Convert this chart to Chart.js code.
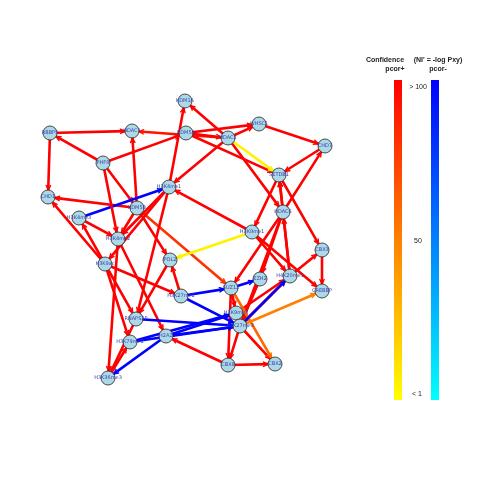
<!DOCTYPE html>
<html>
<head>
<meta charset="utf-8">
<script src="https://cdn.jsdelivr.net/npm/chart.js@4"></script>
<style>
  body { margin: 0; background: #fff; font-family: "Liberation Sans", Arial, sans-serif; }
  #wrap { position: relative; width: 480px; height: 480px; }
  .bar { position: absolute; top: 80px; height: 320px; width: 8px; }
  #barPos { left: 394px; background: linear-gradient(#ff0000, #ff8000 50%, #ffff00); }
  #barNeg { left: 431px; background: linear-gradient(#0000ff, #0080ff 50%, #00ffff); }
  .txt { position: absolute; font-size: 7px; color: #222; white-space: nowrap; transform: translateX(-50%); }
  .bold { font-weight: bold; }
</style>
</head>
<body>
<div id="wrap">
  <canvas id="net" width="480" height="480"></canvas>
  <div class="bar" id="barPos"></div>
  <div class="bar" id="barNeg"></div>
  <div class="txt bold" style="left:385px;top:56px">Confidence</div>
  <div class="txt bold" style="left:438px;top:56px">(NI' = -log Pxy)</div>
  <div class="txt bold" style="left:395px;top:65px">pcor+</div>
  <div class="txt bold" style="left:438px;top:65px">pcor-</div>
  <div class="txt" style="left:418px;top:83px">&gt; 100</div>
  <div class="txt" style="left:418px;top:237px">50</div>
  <div class="txt" style="left:417px;top:390px">&lt; 1</div>
</div>
<script>
  // Node names and layout positions
  const nodeNames = [
    "KDM1A", "KDM5A", "HDAC1", "RBBP5", "HDAC2", "WHSC1", "CHD7", "PHF8",
    "SETDB1", "H3K4me1", "CHD1", "KDM5B", "HDAC6", "H3K4me3", "H3K9me1", "H3K4me2",
    "CBX3", "POL2", "H3K9ac", "H4K20me1", "EZH2", "SUZ12", "CREBBP", "H3K27me2",
    "H3K9me3", "RNAPS2P", "H3K27me3", "H2AZ", "H3K79me2", "CBX8", "CBX2", "H3K36me3"
  ];
  const nodeX = [185, 186, 132, 50, 228, 259, 325, 103, 279, 169, 48, 137, 283, 79, 252, 118,
                 322, 170, 105, 290, 260, 231, 322, 181, 236, 136, 240, 166, 130, 228, 275, 108];
  const nodeY = [101, 133, 131, 133, 138, 124, 146, 163, 175, 187, 197, 208, 212, 218, 232, 239,
                 250, 260, 264, 276, 279, 288, 291, 296, 313, 319, 326, 336, 342, 365, 364, 378];

  // Edges: source, target, confidence (positive = pcor+, negative = pcor-)
  const edgeFrom = [
    "HDAC2", "RBBP5", "KDM5A", "RBBP5", "PHF8", "PHF8", "KDM5B", "PHF8", "H3K4me1", "KDM5B",
    "H3K4me3", "HDAC2", "HDAC2", "KDM5A", "WHSC1", "KDM5A", "HDAC2", "HDAC2", "CHD7",
    "HDAC6", "SETDB1", "CBX3", "HDAC6", "H4K20me1", "H4K20me1", "H4K20me1", "H3K9me1", "SETDB1",
    "H3K9me1", "HDAC6", "HDAC6", "HDAC6", "H3K9me1", "KDM5B", "KDM5B", "KDM5B",
    "H3K4me1", "H3K4me1", "H3K4me1", "H3K4me3", "H3K9ac", "H3K9ac", "H3K9ac", "H3K9ac", "H3K9ac",
    "H3K4me2", "H3K4me2", "PHF8", "POL2", "H3K27me2", "SUZ12", "H3K27me3", "H3K9me3",
    "CBX8", "CBX8", "H3K27me3", "H3K27me3", "H3K36me3", "RNAPS2P", "EZH2", "SUZ12", "H4K20me1",
    "H3K9me1", "SUZ12", "H3K27me3", "H3K27me2", "H3K27me2", "SUZ12", "H3K27me3", "H2AZ", "H2AZ",
    "H3K79me2", "H3K79me2", "RNAPS2P", "H2AZ", "HDAC2"
  ];
  const edgeTo = [
    "HDAC1", "HDAC1", "HDAC2", "CHD1", "RBBP5", "KDM5A", "HDAC1", "KDM5B", "KDM1A", "CHD1",
    "H3K4me1", "KDM1A", "WHSC1", "WHSC1", "CHD7", "SETDB1", "H3K4me1", "HDAC6", "SETDB1",
    "CHD7", "CBX3", "CREBBP", "SETDB1", "SETDB1", "HDAC6", "CBX3", "CREBBP", "H3K9me1",
    "H4K20me1", "SUZ12", "EZH2", "H3K27me3", "H3K4me1", "SUZ12", "POL2", "H3K4me2",
    "H3K4me2", "H3K9ac", "RNAPS2P", "H3K4me2", "H3K4me3", "CHD1", "H3K27me2", "H3K79me2", "RNAPS2P",
    "H3K36me3", "H2AZ", "H3K4me2", "RNAPS2P", "POL2", "CBX8", "CBX8", "H4K20me1",
    "H2AZ", "CBX2", "CBX2", "H4K20me1", "H3K79me2", "H3K36me3", "H3K27me3", "H3K9me3", "H3K27me3",
    "POL2", "CBX2", "CREBBP", "SUZ12", "H3K27me3", "EZH2", "H4K20me1", "H3K9me3", "H3K27me3",
    "H3K27me3", "H3K9me3", "H3K27me3", "H3K36me3", "SETDB1"
  ];
  const edgeConf = [
    92, 100, 100, 100, 100, 100, 100, 100, 100, 100,
    -100, 100, 100, 100, 100, 100, 100, 100, 100,
    100, 100, 100, 100, 100, 100, 100, 100, 100,
    100, 100, 100, 100, 100, 80, 100, 100,
    100, 100, 100, 100, 100, 100, 100, 100, 100,
    100, 100, 100, 100, 100, 100, 100, 100,
    100, 100, 100, 100, 100, 100, 100, 100, 100,
    5, 60, 50, -100, -100, -100, -100, -100, -100,
    -100, -100, -100, -100, 5
  ];

  const nodeRadius = 7;

  function edgeColor(conf) {
    const t = Math.min(Math.abs(conf), 100) / 100;
    if (conf >= 0) return `hsl(${60 * (1 - t)}, 100%, 50%)`;
    return `hsl(${180 + 60 * t}, 100%, 50%)`;
  }

  // Draw edges with arrowheads under the nodes, using the chart scales
  const edgePlugin = {
    id: "edges",
    beforeDatasetsDraw(chart) {
      const { ctx, scales } = chart;
      ctx.save();
      ctx.lineCap = "round";
      edgeFrom.forEach((src, i) => {
        const a = nodeNames.indexOf(src);
        const b = nodeNames.indexOf(edgeTo[i]);
        const x1 = scales.x.getPixelForValue(nodeX[a]);
        const y1 = scales.y.getPixelForValue(nodeY[a]);
        const x2 = scales.x.getPixelForValue(nodeX[b]);
        const y2 = scales.y.getPixelForValue(nodeY[b]);
        const ang = Math.atan2(y2 - y1, x2 - x1);
        const ex = x2 - Math.cos(ang) * nodeRadius;
        const ey = y2 - Math.sin(ang) * nodeRadius;
        ctx.strokeStyle = edgeColor(edgeConf[i]);
        ctx.lineWidth = 2.6;
        ctx.beginPath();
        ctx.moveTo(x1, y1);
        ctx.lineTo(ex, ey);
        ctx.stroke();
        // arrowhead
        const h = 5;
        ctx.lineWidth = 1.4;
        ctx.beginPath();
        ctx.moveTo(ex - h * Math.cos(ang - 0.45), ey - h * Math.sin(ang - 0.45));
        ctx.lineTo(ex, ey);
        ctx.lineTo(ex - h * Math.cos(ang + 0.45), ey - h * Math.sin(ang + 0.45));
        ctx.stroke();
      });
      ctx.restore();
    },
    afterDatasetsDraw(chart) {
      const { ctx, scales } = chart;
      ctx.save();
      ctx.font = "5px 'DejaVu Sans'";
      ctx.fillStyle = "#3a3fb0";
      ctx.textAlign = "center";
      ctx.textBaseline = "middle";
      nodeNames.forEach((name, i) => {
        ctx.fillText(name, scales.x.getPixelForValue(nodeX[i]), scales.y.getPixelForValue(nodeY[i]));
      });
      ctx.restore();
    }
  };

  new Chart(document.getElementById("net"), {
    type: "scatter",
    data: {
      datasets: [
        {
          data: nodeNames.map((n, i) => ({ x: nodeX[i], y: nodeY[i] })),
          pointRadius: nodeRadius,
          pointBackgroundColor: "#add8e6",
          pointBorderColor: "#222",
          pointBorderWidth: 0.8,
        },
      ],
    },
    options: {
      responsive: false,
      animation: false,
      events: [],
      layout: { padding: 0, autoPadding: false },
      plugins: {
        legend: { display: false },
        tooltip: { enabled: false },
      },
      scales: {
        x: { type: "linear", min: 0, max: 480, display: false },
        y: { type: "linear", min: 0, max: 480, reverse: true, display: false },
      },
    },
    plugins: [edgePlugin],
  });
</script>
</body>
</html>
